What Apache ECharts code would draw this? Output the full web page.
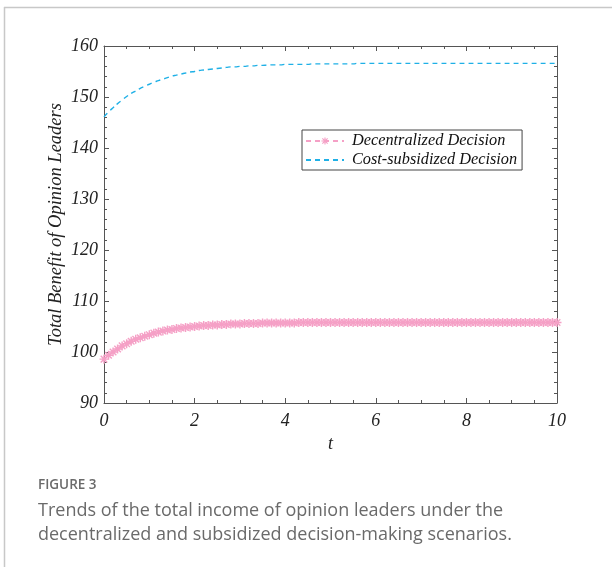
<!DOCTYPE html>
<html>
<head>
<meta charset="utf-8">
<script src="https://cdn.jsdelivr.net/npm/echarts@6/dist/echarts.min.js"></script>
<style>
  html, body { margin: 0; padding: 0; background: #fff; }
  #chart { width: 612px; height: 567px; }
</style>
</head>
<body>
<div id="chart"></div>
<script>
// time grid (t)
const tValues = [
  0, 0.1, 0.2, 0.3, 0.4, 0.5, 0.6, 0.7, 0.8, 0.9,
  1, 1.1, 1.2, 1.3, 1.4, 1.5, 1.6, 1.7, 1.8, 1.9,
  2, 2.1, 2.2, 2.3, 2.4, 2.5, 2.6, 2.7, 2.8, 2.9,
  3, 3.1, 3.2, 3.3, 3.4, 3.5, 3.6, 3.7, 3.8, 3.9,
  4, 4.1, 4.2, 4.3, 4.4, 4.5, 4.6, 4.7, 4.8, 4.9,
  5, 5.1, 5.2, 5.3, 5.4, 5.5, 5.6, 5.7, 5.8, 5.9,
  6, 6.1, 6.2, 6.3, 6.4, 6.5, 6.6, 6.7, 6.8, 6.9,
  7, 7.1, 7.2, 7.3, 7.4, 7.5, 7.6, 7.7, 7.8, 7.9,
  8, 8.1, 8.2, 8.3, 8.4, 8.5, 8.6, 8.7, 8.8, 8.9,
  9, 9.1, 9.2, 9.3, 9.4, 9.5, 9.6, 9.7, 9.8, 9.9,
  10
];

// Decentralized Decision
const decentralized = [
  98.6, 99.35, 100.0, 100.6, 101.2, 101.6, 102.1, 102.5, 102.8, 103.1,
  103.4, 103.7, 103.9, 104.1, 104.3, 104.4, 104.6, 104.7, 104.8, 104.9,
  105.0, 105.1, 105.2, 105.2, 105.3, 105.3, 105.4, 105.4, 105.5, 105.5,
  105.5, 105.6, 105.6, 105.6, 105.6, 105.7, 105.7, 105.7, 105.7, 105.7,
  105.7, 105.7, 105.7, 105.8, 105.8, 105.8, 105.8, 105.8, 105.8, 105.8,
  105.8, 105.8, 105.8, 105.8, 105.8, 105.8, 105.8, 105.8, 105.8, 105.8,
  105.8, 105.8, 105.8, 105.8, 105.8, 105.8, 105.8, 105.8, 105.8, 105.8,
  105.8, 105.8, 105.8, 105.8, 105.8, 105.8, 105.8, 105.8, 105.8, 105.8,
  105.8, 105.8, 105.8, 105.8, 105.8, 105.8, 105.8, 105.8, 105.8, 105.8,
  105.8, 105.8, 105.8, 105.8, 105.8, 105.8, 105.8, 105.8, 105.8, 105.8,
  105.8
];

// Cost-subsidized Decision
const costSubsidized = [
  146.1, 147.05, 147.9, 148.7, 149.4, 150.1, 150.7, 151.2, 151.7, 152.1,
  152.5, 152.9, 153.2, 153.5, 153.8, 154.1, 154.3, 154.5, 154.7, 154.9,
  155.0, 155.2, 155.3, 155.4, 155.5, 155.6, 155.7, 155.8, 155.9, 155.9,
  156.0, 156.0, 156.1, 156.1, 156.2, 156.2, 156.25, 156.3, 156.3, 156.3,
  156.4, 156.4, 156.4, 156.4, 156.4, 156.4, 156.5, 156.5, 156.5, 156.5,
  156.5, 156.5, 156.5, 156.5, 156.5, 156.5, 156.6, 156.6, 156.6, 156.6,
  156.6, 156.6, 156.6, 156.6, 156.6, 156.6, 156.6, 156.6, 156.6, 156.6,
  156.6, 156.6, 156.6, 156.6, 156.6, 156.6, 156.6, 156.6, 156.6, 156.6,
  156.6, 156.6, 156.6, 156.6, 156.6, 156.6, 156.6, 156.6, 156.6, 156.6,
  156.6, 156.6, 156.6, 156.6, 156.6, 156.6, 156.6, 156.6, 156.6, 156.6,
  156.6
];

const seriesNames = ['Decentralized Decision', 'Cost-subsidized Decision'];
const captionLines = [
  'Trends of the total income of opinion leaders under the',
  'decentralized and subsidized decision-making scenarios.'
];

const pink = '#f5a0c6';
const blue = '#1fb0e6';
const axisColor = '#555';
const serif = '"Liberation Serif", "Times New Roman", serif';

// asterisk marker (plus + cross)
const asterisk = 'path://M4.2,0h1.6v10h-1.6z M0,4.2h10v1.6h-10z M0.8,1.9L1.9,0.8L9.2,8.1L8.1,9.2z M0.8,8.1L8.1,0.8L9.2,1.9L1.9,9.2z';

const chart = echarts.init(document.getElementById('chart'));

const baseAxis = {
  axisLine: { show: true, onZero: false, lineStyle: { color: axisColor, width: 1 } },
  axisTick: { show: true, inside: true, length: 5, lineStyle: { color: axisColor } },
  minorTick: { show: true, splitNumber: 4, length: 3, lineStyle: { color: axisColor } },
  splitLine: { show: false },
  axisLabel: { fontFamily: serif, fontStyle: 'italic', fontSize: 18, color: '#222' }
};

const option = {
  animation: false,
  backgroundColor: '#fff',
  grid: { left: 104, right: 55, top: 46, bottom: 164 },
  legend: {
    orient: 'vertical',
    left: 302,
    top: 130,
    padding: [3, 5, 2, 3],
    itemGap: 3,
    itemWidth: 38,
    itemHeight: 9,
    backgroundColor: '#fff',
    borderColor: '#444',
    borderWidth: 1,
    borderRadius: 0,
    data: [
      { name: seriesNames[0] },
      { name: seriesNames[1], itemStyle: { color: 'rgba(0,0,0,0)', borderWidth: 0 } }
    ],
    textStyle: { fontFamily: serif, fontStyle: 'italic', fontSize: 16.3, color: '#111', padding: [0, 0, 0, 3] }
  },
  xAxis: [
    Object.assign({}, baseAxis, {
      type: 'value', min: 0, max: 10, interval: 2, position: 'bottom',
      name: 't', nameLocation: 'middle', nameGap: 32, nameMoveOverlap: false,
      nameTextStyle: { fontFamily: serif, fontStyle: 'italic', fontSize: 18, color: '#222' },
      axisLabel: Object.assign({}, baseAxis.axisLabel, { margin: 9 })
    }),
    Object.assign({}, baseAxis, {
      type: 'value', min: 0, max: 10, interval: 2, position: 'top',
      axisLabel: { show: false }
    })
  ],
  yAxis: [
    Object.assign({}, baseAxis, {
      type: 'value', min: 90, max: 160, interval: 10, position: 'left',
      minorTick: Object.assign({}, baseAxis.minorTick, { splitNumber: 5 }),
      name: 'Total Benefit of Opinion Leaders', nameLocation: 'middle', nameGap: 38, nameMoveOverlap: false,
      nameTextStyle: { fontFamily: serif, fontStyle: 'italic', fontSize: 18.5, color: '#222' },
      axisLabel: Object.assign({}, baseAxis.axisLabel, { margin: 6 })
    }),
    Object.assign({}, baseAxis, {
      type: 'value', min: 90, max: 160, interval: 10, position: 'right',
      minorTick: Object.assign({}, baseAxis.minorTick, { splitNumber: 5 }),
      axisLabel: { show: false }
    })
  ],
  series: [
    {
      name: seriesNames[0],
      type: 'line',
      data: tValues.map((t, i) => [t, decentralized[i]]),
      symbol: asterisk,
      symbolSize: 9,
      showAllSymbol: true,
      itemStyle: { color: pink },
      lineStyle: { color: pink, width: 1.3, type: [5, 4] }
    },
    {
      name: seriesNames[1],
      type: 'line',
      data: tValues.map((t, i) => [t, costSubsidized[i]]),
      symbol: 'none',
      smooth: true,
      itemStyle: { color: blue },
      lineStyle: { color: blue, width: 1.4, type: [5, 4] }
    }
  ],
  graphic: [
    { type: 'line', shape: { x1: 4, y1: 7.5, x2: 612, y2: 7.5 }, style: { stroke: '#c8c8c8', lineWidth: 1.5 } },
    { type: 'line', shape: { x1: 4.5, y1: 7, x2: 4.5, y2: 567 }, style: { stroke: '#c8c8c8', lineWidth: 1.5 } },
    {
      type: 'text', left: 38, top: 478,
      style: { text: 'FIGURE 3', font: '600 13.5px "Open Sans", sans-serif', fill: '#6a6a6a' }
    },
    {
      type: 'text', left: 38, top: 499,
      style: { text: captionLines.join('\n'), font: '18px "Open Sans", sans-serif', fill: '#6a6a6a', lineHeight: 24 }
    }
  ]
};

chart.setOption(option);
</script>
</body>
</html>
